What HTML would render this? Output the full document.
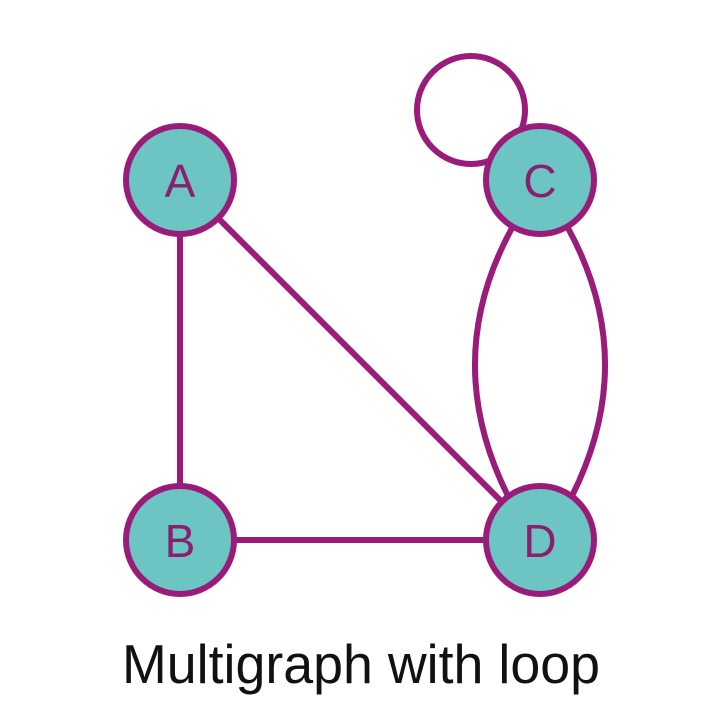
<!DOCTYPE html>
<html><head><meta charset="utf-8"><style>body{margin:0;background:#fff}svg{display:block}</style></head>
<body>
<svg width="720" height="720" viewBox="0 0 720 720" xmlns="http://www.w3.org/2000/svg">
<g stroke="#9a1c7a" stroke-width="6" fill="none">
<circle cx="471" cy="110" r="54" fill="#fff"/>
<line x1="180" y1="180" x2="180" y2="540"/>
<line x1="180" y1="180" x2="540" y2="540"/>
<line x1="180" y1="540" x2="540" y2="540"/>
<path d="M512 228 Q440 360 508 496"/>
<path d="M568 228 Q640 360 572 496"/>
</g>
<g stroke="#9a1c7a" stroke-width="6" fill="#6cc5c3">
<circle cx="180" cy="180" r="54"/>
<circle cx="540" cy="180" r="54"/>
<circle cx="180" cy="540" r="54"/>
<circle cx="540" cy="540" r="54"/>
</g>
<g font-family="Liberation Sans, sans-serif" font-size="46" fill="#8a1f70" text-anchor="middle">
<text x="180" y="197">A</text>
<text x="540" y="197">C</text>
<text x="180" y="557">B</text>
<text x="540" y="557">D</text>
</g>
<text x="122" y="683" font-family="Liberation Sans, sans-serif" font-size="55" fill="#111" textLength="478" lengthAdjust="spacingAndGlyphs">Multigraph with loop</text>
</svg>
</body></html>
